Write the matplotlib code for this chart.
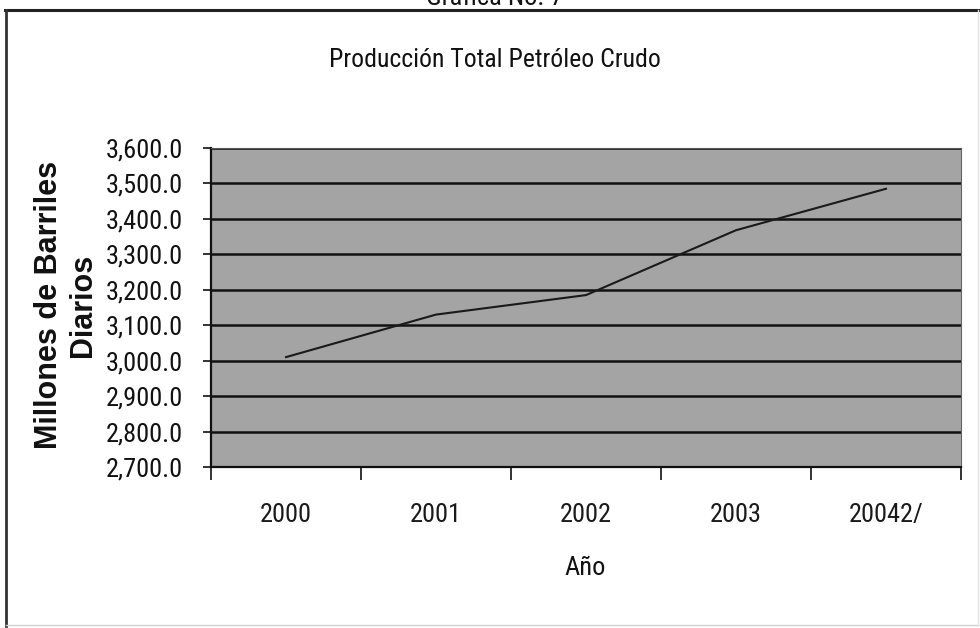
import matplotlib.pyplot as plt
from matplotlib.lines import Line2D
from matplotlib.ticker import FuncFormatter

# Producción total de petróleo crudo por año
years = ["2000", "2001", "2002", "2003", "20042/"]
production = [3010, 3130, 3185, 3368, 3485]
y_ticks = list(range(2700, 3601, 100))

narrow = ["Liberation Sans Narrow", "Roboto Condensed",
          "DejaVu Sans Condensed", "Liberation Sans"]
plain = ["Liberation Sans", "DejaVu Sans"]

fig = plt.figure(figsize=(9.8, 6.28), dpi=100)
W, H = 980, 628

# Outer frame of the chart object
fig.add_artist(Line2D([5 / W, 978 / W], [1 - 10 / H, 1 - 10 / H],
                      transform=fig.transFigure, color="#222222", lw=2.2))
fig.add_artist(Line2D([6 / W, 6 / W], [1 - 10 / H, 1 - 626 / H],
                      transform=fig.transFigure, color="#333333", lw=2.0))
fig.add_artist(Line2D([6 / W, 978 / W], [1 - 625 / H, 1 - 625 / H],
                      transform=fig.transFigure, color="#d0d0d0", lw=1.0))
fig.add_artist(Line2D([978 / W, 978 / W], [1 - 10 / H, 1 - 625 / H],
                      transform=fig.transFigure, color="#e0e0e0", lw=1.0))

# Caption above the frame, cut by the page edge
fig.text(495 / W, 1 - 5 / H, "Gráfica No. 7", ha="center", va="baseline",
         fontsize=19, family=narrow, color="#111111")

ax = fig.add_axes([211 / W, 1 - 467 / H, 750 / W, 319 / H])
ax.set_facecolor("#a4a4a4")

x = list(range(len(years)))
ax.plot(x, production, color="#1a1a1a", lw=1.5, zorder=3)

ax.set_ylim(2700, 3600)
ax.set_yticks(y_ticks)
ax.yaxis.set_major_formatter(FuncFormatter(lambda v, p: f"{v:,.1f}"))
ax.grid(axis="y", color="#111111", lw=1.8, zorder=1)
ax.set_axisbelow(True)

ax.set_xlim(-0.5, len(years) - 0.5)
ax.set_xticks([i - 0.5 for i in range(len(years) + 1)])
ax.set_xticklabels([])
ax.set_xticks(x, minor=True)
ax.set_xticklabels(years, minor=True)

ax.tick_params(axis="y", length=6, width=1.2, pad=14, labelsize=19,
               colors="#111111")
ax.tick_params(axis="x", which="major", length=9, width=1.2, color="#111111")
ax.tick_params(axis="x", which="minor", length=0, pad=26, labelsize=19,
               labelcolor="#1a1a1a")
for lbl in ax.get_yticklabels() + ax.get_xticklabels(minor=True):
    lbl.set_family(narrow)

for side in ("left", "bottom"):
    ax.spines[side].set_color("#111111")
    ax.spines[side].set_linewidth(1.6)
ax.spines["top"].set_color("#555555")
ax.spines["right"].set_color("#666666")
ax.spines["top"].set_linewidth(0.8)
ax.spines["right"].set_linewidth(0.8)

fig.text(495 / W, 1 - 60 / H, "Producción Total Petróleo Crudo",
         ha="center", va="center", fontsize=18.5, family=narrow,
         color="#111111")
fig.text(585 / W, 1 - 568 / H, "Año", ha="center", va="center",
         fontsize=19, family=narrow, color="#111111")
fig.text(66 / W, 1 - 305 / H, "Millones de Barriles\nDiarios",
         rotation=90, ha="center", va="center", multialignment="center",
         fontsize=22, fontweight="bold", family=plain, linespacing=1.2,
         color="#111111")

fig.savefig("out.png", dpi=100)
